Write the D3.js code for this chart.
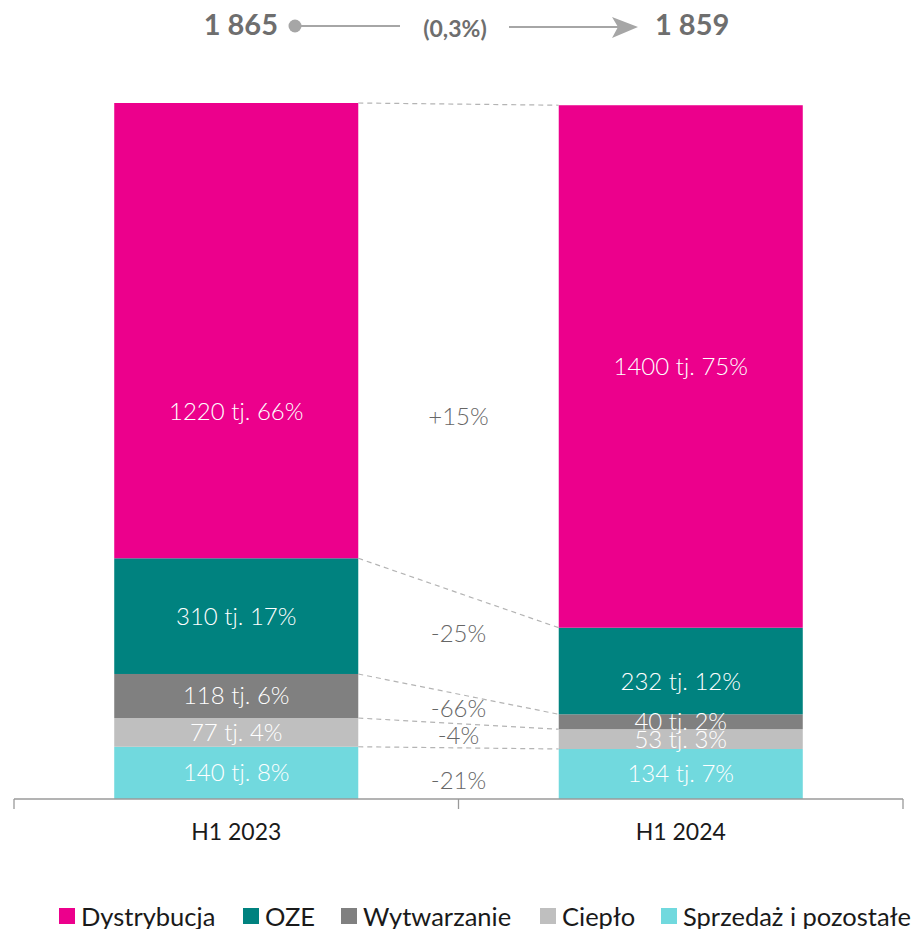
<!DOCTYPE html>
<html lang="pl">
<head>
  <meta charset="UTF-8">
  <title>EBITDA segmenty H1 2023 vs H1 2024</title>
  <style>
    body { margin: 0; background: #fff; font-family: Lato, "Noto Sans", sans-serif; }
    #chart svg { display: block; }
  </style>
</head>
<body>
  <div id="chart"></div>

  <script src="https://d3js.org/d3.v7.min.js"></script>
  <script>
    // Data
    const categories = ['H1 2023', 'H1 2024'];
    const series = ['Dystrybucja', 'OZE', 'Wytwarzanie', 'Ciepło', 'Sprzedaż i pozostałe'];
    const values2023 = [1220, 310, 118, 77, 140];
    const values2024 = [1400, 232, 40, 53, 134];
    const shares2023 = [66, 17, 6, 4, 8];
    const shares2024 = [75, 12, 2, 3, 7];
    const changes = ['+15%', '-25%', '-66%', '-4%', '-21%'];
    const totals = ['1 865', '1 859'];
    const totalChange = '(0,3%)';

    const colors = ['#EC008C', '#00827F', '#808080', '#BFBFBF', '#71D9DE'];

    const W = 918, H = 929;
    const baseY = 799, topY = 103;

    const svg = d3.select('#chart').append('svg')
      .attr('width', W).attr('height', H);

    // build rows for the stack
    const rows = categories.map((c, i) => {
      const vals = i === 0 ? values2023 : values2024;
      const shr = i === 0 ? shares2023 : shares2024;
      const r = { cat: c, shares: {} };
      series.forEach((s, j) => { r[s] = vals[j]; r.shares[s] = shr[j]; });
      return r;
    });

    // bottom of the stack is the last series
    const stackKeys = series.slice().reverse();
    const stacked = d3.stack().keys(stackKeys)(rows);

    const maxTotal = d3.max(rows, r => d3.sum(series, s => r[s]));

    const x = d3.scaleBand()
      .domain(categories)
      .range([14, 903])
      .paddingInner(0.451)
      .paddingOuter(0.2255);

    const y = d3.scaleLinear()
      .domain([0, maxTotal])
      .range([baseY, topY]);

    const color = d3.scaleOrdinal().domain(series).range(colors);

    // bars
    const layers = svg.append('g').selectAll('g')
      .data(stacked)
      .join('g')
      .attr('fill', d => color(d.key));

    layers.selectAll('rect')
      .data(d => d.map(p => Object.assign(p, { key: d.key })))
      .join('rect')
      .attr('x', d => x(d.data.cat))
      .attr('y', d => y(d[1]))
      .attr('width', x.bandwidth())
      .attr('height', d => y(d[0]) - y(d[1]));

    // dashed connectors between the bars (top edge of each segment)
    const x1 = x(categories[0]) + x.bandwidth();
    const x2 = x(categories[1]);
    const conn = svg.append('g');
    stacked.forEach(layer => {
      conn.append('line')
        .attr('x1', x1).attr('y1', y(layer[0][1]))
        .attr('x2', x2).attr('y2', y(layer[1][1]))
        .attr('stroke', '#b4b4b4')
        .attr('stroke-width', 1.2)
        .attr('stroke-dasharray', '5,4');
    });

    // segment labels (some are nudged like in the original)
    const labelNudge = { 'H1 2023|Dystrybucja': 81, 'H1 2024|OZE': 11 };
    const labels = svg.append('g')
      .attr('font-size', 24)
      .attr('font-weight', 300)
      .attr('fill', '#fff')
      .attr('text-anchor', 'middle');
    stacked.forEach(layer => {
      layer.forEach(p => {
        const cy = (y(p[0]) + y(p[1])) / 2 + (labelNudge[p.data.cat + '|' + layer.key] || 0);
        labels.append('text')
          .attr('x', x(p.data.cat) + x.bandwidth() / 2)
          .attr('y', cy)
          .attr('dy', '0.35em')
          .text(`${p.data[layer.key]} tj. ${p.data.shares[layer.key]}%`);
      });
    });

    // change labels in the gap
    const changeNudge = { 'Dystrybucja': 68, 'OZE': -10, 'Sprzedaż i pozostałe': 7 };
    const midX = (x1 + x2) / 2;
    const chg = svg.append('g')
      .attr('font-size', 24)
      .attr('font-weight', 300)
      .attr('fill', '#666')
      .attr('text-anchor', 'middle');
    stacked.forEach(layer => {
      const c0 = (y(layer[0][0]) + y(layer[0][1])) / 2;
      const c1 = (y(layer[1][0]) + y(layer[1][1])) / 2;
      chg.append('text')
        .attr('x', midX)
        .attr('y', (c0 + c1) / 2 + (changeNudge[layer.key] || 0))
        .attr('dy', '0.35em')
        .text(changes[series.indexOf(layer.key)]);
    });

    // axis: line with ticks between categories
    const axis = svg.append('g').attr('stroke', '#9a9a9a').attr('stroke-width', 1.3);
    const [r0, r1] = x.range();
    axis.append('line').attr('x1', r0).attr('x2', r1).attr('y1', baseY).attr('y2', baseY);
    [r0, r0 + x.step(), r1].forEach(t => {
      axis.append('line').attr('x1', t).attr('x2', t).attr('y1', baseY).attr('y2', baseY + 10);
    });

    const xAxis = svg.append('g')
      .attr('transform', `translate(0,${baseY + 22})`)
      .call(d3.axisBottom(x).tickSize(0));
    xAxis.select('.domain').remove();
    xAxis.selectAll('text')
      .attr('font-family', 'Lato, "Noto Sans", sans-serif')
      .attr('font-size', 23)
      .attr('fill', '#1a1a1a');

    // header: total change
    const head = svg.append('g').attr('fill', '#6e6e6e');
    head.append('text')
      .attr('x', 278).attr('y', 25).attr('dy', '0.35em')
      .attr('text-anchor', 'end')
      .attr('font-size', 29).attr('font-weight', 'bold')
      .text(totals[0]);
    head.append('circle').attr('cx', 295).attr('cy', 26).attr('r', 6.5).attr('fill', '#a6a6a6');
    head.append('line').attr('x1', 295).attr('x2', 400).attr('y1', 26).attr('y2', 26)
      .attr('stroke', '#a6a6a6').attr('stroke-width', 2);
    head.append('text')
      .attr('x', 455).attr('y', 29).attr('dy', '0.35em')
      .attr('text-anchor', 'middle')
      .attr('font-size', 23).attr('font-weight', 'bold')
      .text(totalChange);
    head.append('line').attr('x1', 509).attr('x2', 630).attr('y1', 27).attr('y2', 27)
      .attr('stroke', '#a6a6a6').attr('stroke-width', 2);
    head.append('path')
      .attr('d', 'M612,17 L638,27 L612,38 L618,27 Z')
      .attr('fill', '#a6a6a6');
    head.append('text')
      .attr('x', 655).attr('y', 25).attr('dy', '0.35em')
      .attr('font-size', 29).attr('font-weight', 'bold')
      .text(totals[1]);

    // legend
    const legendX = [59, 243, 341, 540, 661];
    const legend = svg.append('g').attr('transform', 'translate(0,908)');
    series.forEach((s, i) => {
      const g = legend.append('g').attr('transform', `translate(${legendX[i]},0)`);
      g.append('rect').attr('width', 16).attr('height', 16).attr('fill', color(s));
      g.append('text')
        .attr('x', 22).attr('y', 8).attr('dy', '0.38em')
        .attr('font-size', 25.5).attr('fill', '#1a1a1a')
        .text(s);
    });
  </script>
</body>
</html>
